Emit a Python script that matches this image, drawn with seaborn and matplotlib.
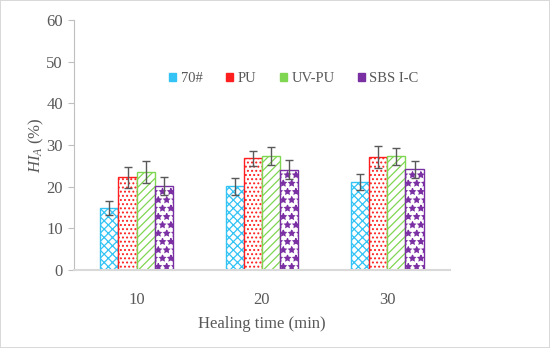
import pandas as pd
import seaborn as sns
import matplotlib.pyplot as plt

# healing time groups and binder types
times = ["10", "20", "30"]
binders = ["70#", "PU", "UV-PU", "SBS I-C"]

# HI_A values (%), per binder across the three times
hi_70 = [14.9, 20.1, 21.1]
hi_pu = [22.3, 26.8, 27.1]
hi_uvpu = [23.6, 27.3, 27.3]
hi_sbs = [20.2, 24.1, 24.2]

# error bar half-lengths
err_70 = [1.7, 2.1, 2.0]
err_pu = [2.5, 1.8, 2.6]
err_uvpu = [2.6, 2.2, 2.0]
err_sbs = [2.2, 2.3, 2.0]

colors = ["#33c3f5", "#ff1f1f", "#7fd650", "#7a2fa3"]
hatches = ["xxxx", "....", "////", "**"]

df = pd.DataFrame({
    "time": times * 4,
    "binder": [b for b in binders for _ in times],
    "value": hi_70 + hi_pu + hi_uvpu + hi_sbs,
    "err": err_70 + err_pu + err_uvpu + err_sbs,
})

sns.set_style("white")
plt.rcParams["font.family"] = ["Liberation Serif", "DejaVu Serif"]
plt.rcParams["mathtext.fontset"] = "custom"
plt.rcParams["mathtext.it"] = "Liberation Serif:italic"
plt.rcParams["mathtext.rm"] = "Liberation Serif"
plt.rcParams["hatch.linewidth"] = 0.9
text_gray = "#595959"

fig = plt.figure(figsize=(5.5, 3.48), dpi=100, linewidth=1.2, edgecolor="#d9d9d9")
ax = fig.add_axes([0.1345, 0.224, 0.6835, 0.7185])

sns.barplot(data=df, x="time", y="value", hue="binder", order=times,
            hue_order=binders, errorbar=None, width=0.58, gap=0,
            palette=colors, ax=ax)

for cont, col, h, b in zip(ax.containers, colors, hatches, binders):
    sub = df[df["binder"] == b]
    xs = []
    for bar in cont:
        bar.set_facecolor("white")
        bar.set_edgecolor(col)
        bar.set_hatch(h)
        bar.set_linewidth(1.0)
        xs.append(bar.get_x() + bar.get_width() / 2)
    ax.errorbar(xs, sub["value"], yerr=sub["err"], fmt="none",
                ecolor="#595959", elinewidth=1, capsize=3, capthick=1)

ax.set_ylim(0, 60)
ax.set_yticks(range(0, 61, 10))
ax.set_xlim(-0.5, 2.5)
ax.set_xlabel("Healing time (min)", fontsize=12, color=text_gray, labelpad=6)
ax.set_ylabel(r"$HI_A$ (%)", fontsize=12, color=text_gray, labelpad=0)
ax.tick_params(axis="y", left=True, length=4, width=0.8, color="#bfbfbf",
               labelsize=12, labelcolor=text_gray, pad=4)
ax.tick_params(axis="x", bottom=False, labelsize=12, labelcolor=text_gray, pad=12)
for side in ["top", "right"]:
    ax.spines[side].set_visible(False)
ax.spines["left"].set_color("#bfbfbf")
ax.spines["left"].set_linewidth(0.8)
ax.spines["bottom"].set_color("#d9d9d9")
ax.spines["bottom"].set_linewidth(1.5)

leg = ax.legend(loc="center", bbox_to_anchor=(0.585, 0.765), ncol=4, frameon=False,
                fontsize=10.5, handlelength=0.5, handleheight=0.5, handletextpad=0.3,
                columnspacing=1.6, labelcolor=text_gray)
for hnd, col in zip(leg.legend_handles, colors):
    hnd.set_facecolor(col)
    hnd.set_edgecolor(col)
    hnd.set_hatch("")

fig.savefig("out.png", dpi=100, edgecolor=fig.get_edgecolor())
